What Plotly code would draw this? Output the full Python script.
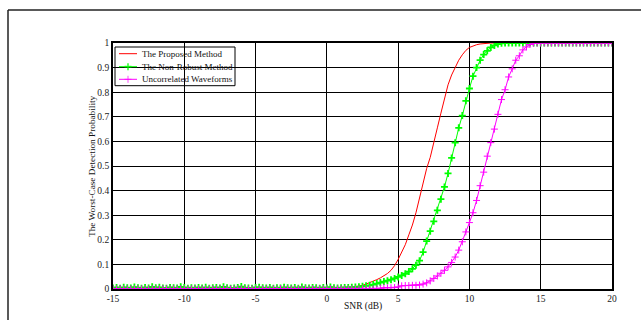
import plotly.graph_objects as go

# ---------------- data ----------------
snr = [
    -15, -14.75, -14.5, -14.25, -14, -13.75, -13.5, -13.25, -13, -12.75,
    -12.5, -12.25, -12, -11.75, -11.5, -11.25, -11, -10.75, -10.5, -10.25,
    -10, -9.75, -9.5, -9.25, -9, -8.75, -8.5, -8.25, -8, -7.75,
    -7.5, -7.25, -7, -6.75, -6.5, -6.25, -6, -5.75, -5.5, -5.25,
    -5, -4.75, -4.5, -4.25, -4, -3.75, -3.5, -3.25, -3, -2.75,
    -2.5, -2.25, -2, -1.75, -1.5, -1.25, -1, -0.75, -0.5, -0.25,
    0, 0.25, 0.5, 0.75, 1, 1.25, 1.5, 1.75, 2, 2.25,
    2.5, 2.75, 3, 3.25, 3.5, 3.75, 4, 4.25, 4.5, 4.75,
    5, 5.25, 5.5, 5.75, 6, 6.25, 6.5, 6.75, 7, 7.25,
    7.5, 7.75, 8, 8.25, 8.5, 8.75, 9, 9.25, 9.5, 9.75,
    10, 10.25, 10.5, 10.75, 11, 11.25, 11.5, 11.75, 12, 12.25,
    12.5, 12.75, 13, 13.25, 13.5, 13.75, 14, 14.25, 14.5, 14.75,
    15, 15.25, 15.5, 15.75, 16, 16.25, 16.5, 16.75, 17, 17.25,
    17.5, 17.75, 18, 18.25, 18.5, 18.75, 19, 19.25, 19.5, 19.75,
    20,
]

proposed = [
    0, 0, 0, 0, 0, 0, 0, 0, 0, 0,
    0, 0, 0, 0, 0, 0, 0, 0, 0, 0,
    0, 0, 0, 0, 0, 0, 0, 0, 0, 0,
    0, 0, 0, 0, 0, 0, 0, 0, 0, 0,
    0, 0, 0, 0, 0, 0, 0, 0, 0, 0,
    0, 0, 0, 0, 0, 0, 0, 0, 0, 0,
    0, 0, 0, 0.001, 0.002, 0.003, 0.004, 0.006, 0.008, 0.011,
    0.015, 0.02, 0.025, 0.031, 0.038, 0.045, 0.053, 0.063, 0.076, 0.095,
    0.12, 0.15, 0.18, 0.22, 0.26, 0.31, 0.37, 0.43, 0.49, 0.535,
    0.59, 0.655, 0.715, 0.775, 0.83, 0.87, 0.9, 0.93, 0.952, 0.97,
    0.982, 0.989, 0.993, 0.996, 0.998, 0.999, 1, 1, 1, 1,
    1, 1, 1, 1, 1, 1, 1, 1, 1, 1,
    1, 1, 1, 1, 1, 1, 1, 1, 1, 1,
    1, 1, 1, 1, 1, 1, 1, 1, 1, 1,
    1,
]

non_robust = [
    0.004, 0.006, 0.003, 0.007, 0.005, 0.004, 0.008, 0.005, 0.003, 0.006,
    0.004, 0.009, 0.005, 0.007, 0.004, 0.003, 0.006, 0.005, 0.004, 0.009,
    0.006, 0.003, 0.005, 0.004, 0.006, 0.004, 0.007, 0.003, 0.005, 0.006,
    0.004, 0.009, 0.005, 0.003, 0.004, 0.006, 0.01, 0.005, 0.004, 0.003,
    0.006, 0.007, 0.005, 0.004, 0.006, 0.003, 0.005, 0.004, 0.007, 0.005,
    0.004, 0.006, 0.003, 0.008, 0.005, 0.004, 0.006, 0.005, 0.003, 0.006,
    0.004, 0.008, 0.005, 0.004, 0.005, 0.006, 0.006, 0.007, 0.008, 0.009,
    0.011, 0.013, 0.015, 0.018, 0.022, 0.026, 0.03, 0.034, 0.038, 0.043,
    0.049, 0.055, 0.062, 0.071, 0.082, 0.097, 0.115, 0.15, 0.195, 0.235,
    0.275, 0.32, 0.365, 0.415, 0.47, 0.533, 0.595, 0.655, 0.705, 0.765,
    0.815, 0.865, 0.9, 0.93, 0.953, 0.968, 0.982, 0.99, 0.996, 0.999,
    1, 1, 1, 1, 1, 1, 1, 1, 1, 1,
    1, 1, 1, 1, 1, 1, 1, 1, 1, 1,
    1, 1, 1, 1, 1, 1, 1, 1, 1, 1,
    1,
]

uncorrelated = [
    0, 0, 0.001, 0, 0, 0, 0, 0.001, 0, 0,
    0, 0, 0, 0, 0.001, 0, 0, 0, 0, 0,
    0, 0, 0, 0.001, 0, 0, 0, 0, 0, 0,
    0, 0, 0, 0, 0, 0.001, 0, 0, 0, 0,
    0, 0, 0, 0, 0, 0, 0, 0.001, 0, 0,
    0, 0, 0, 0, 0, 0, 0, 0, 0, 0,
    0, 0, 0, 0, 0, 0, 0, 0, 0, 0,
    0, 0, 0, 0, 0, 0.003, 0.005, 0.005, 0.005, 0.006,
    0.008, 0.013, 0.014, 0.014, 0.015, 0.015, 0.016, 0.02, 0.025, 0.033,
    0.043, 0.053, 0.064, 0.076, 0.09, 0.108, 0.13, 0.158, 0.192, 0.232,
    0.27, 0.31, 0.36, 0.42, 0.475, 0.54, 0.595, 0.65, 0.71, 0.77,
    0.81, 0.862, 0.895, 0.93, 0.948, 0.972, 0.984, 0.994, 0.999, 1,
    1, 1, 1, 1, 1, 1, 1, 1, 1, 1,
    1, 1, 1, 1, 1, 1, 1, 1, 1, 1,
    1,
]

series_names = ["The Proposed Method", "The Non-Robust Method", "Uncorrelated Waveforms"]
x_ticks = [-15, -10, -5, 0, 5, 10, 15, 20]
y_ticks = [0, 0.1, 0.2, 0.3, 0.4, 0.5, 0.6, 0.7, 0.8, 0.9, 1]
x_title = "SNR (dB)"
y_title = "The Worst-Case Detection Probability"

# ---------------- layout geometry ----------------
W, H = 641, 320
L, R, T, B = 113, 29, 43, 31
PW, PH = W - L - R, H - T - B
FONT = "Liberation Serif, Times New Roman, serif"
FS = 9.5
RED, GREEN, MAGENTA = "#ff0000", "#00ff00", "#ff00ff"


def px(xp):
    return (xp - L) / PW


def py(yp):
    return (H - B - yp) / PH


fig = go.Figure()

fig.add_trace(go.Scatter(x=snr, y=proposed, mode="lines", name=series_names[0],
                         line=dict(color=RED, width=1), showlegend=False))
fig.add_trace(go.Scatter(x=snr, y=non_robust, mode="lines+markers", name=series_names[1],
                         line=dict(color=GREEN, width=1),
                         marker=dict(symbol="cross-thin-open", size=5,
                                     line=dict(color=GREEN, width=1.8)),
                         showlegend=False))
fig.add_trace(go.Scatter(x=snr, y=uncorrelated, mode="lines+markers", name=series_names[2],
                         line=dict(color=MAGENTA, width=1),
                         marker=dict(symbol="cross-thin-open", size=5,
                                     line=dict(color=MAGENTA, width=1)),
                         showlegend=False))

# ---------- manual legend (MATLAB style) ----------
rows = [53.7, 66.7, 79.3]
colors = [RED, GREEN, MAGENTA]
symbols = [None, "cross-thin-open", "cross-thin-open"]
mwidth = [1, 1.8, 1]
lx0, lx1, lxm = px(119), px(137), px(128)
for i in range(3):
    yr = py(rows[i])
    if symbols[i] is None:
        fig.add_trace(go.Scatter(x=[lx0, lx1], y=[yr, yr], mode="lines",
                                 line=dict(color=colors[i], width=1),
                                 xaxis="x2", yaxis="y2", showlegend=False,
                                 hoverinfo="skip"))
    else:
        fig.add_trace(go.Scatter(x=[lx0, lxm, lx1], y=[yr, yr, yr], mode="lines+markers",
                                 line=dict(color=colors[i], width=1),
                                 marker=dict(symbol=symbols[i], size=[0, 5, 0],
                                             line=dict(color=colors[i], width=mwidth[i])),
                                 xaxis="x2", yaxis="y2", showlegend=False,
                                 hoverinfo="skip"))

shapes = [
    # legend box
    dict(type="rect", xref="paper", yref="paper", x0=px(115), x1=px(235),
         y0=py(85.7), y1=py(47), line=dict(color="black", width=1),
         fillcolor="white", layer="between"),
    # outer figure frame (top and left edges)
    dict(type="line", xref="paper", yref="paper", x0=px(8), x1=px(645),
         y0=py(10), y1=py(10), line=dict(color="#222", width=1.5)),
    dict(type="line", xref="paper", yref="paper", x0=px(8), x1=px(8),
         y0=py(10), y1=py(330), line=dict(color="#222", width=1.5)),
]

annotations = []
for i in range(3):
    annotations.append(dict(x=px(140), y=py(rows[i]), xref="paper", yref="paper",
                            text=series_names[i], showarrow=False, xanchor="left",
                            yanchor="middle", font=dict(family=FONT, size=9, color="#111")))
annotations.append(dict(x=0.5, y=py(306), xref="paper", yref="paper", text=x_title,
                        showarrow=False, xanchor="center", yanchor="middle",
                        font=dict(family=FONT, size=FS, color="#111")))
annotations.append(dict(x=px(92), y=0.5, xref="paper", yref="paper", text=y_title,
                        showarrow=False, textangle=-90, xanchor="center", yanchor="middle",
                        font=dict(family=FONT, size=9.25, color="#111")))

axis_common = dict(showgrid=True, gridcolor="black", gridwidth=1.4, showline=True,
                   linecolor="black", linewidth=1.8, mirror=True, ticks="",
                   zeroline=False, tickfont=dict(family=FONT, size=FS, color="#222"))

fig.update_layout(
    width=W, height=H,
    margin=dict(l=L, r=R, t=T, b=B, pad=0),
    paper_bgcolor="white", plot_bgcolor="white",
    showlegend=False,
    xaxis=dict(range=[-15, 20], tickvals=x_ticks, ticktext=[str(v) for v in x_ticks],
               **axis_common),
    yaxis=dict(range=[0, 1], tickvals=y_ticks, ticktext=[("%g" % v) for v in y_ticks],
               **axis_common),
    xaxis2=dict(range=[0, 1], overlaying="x", visible=False),
    yaxis2=dict(range=[0, 1], overlaying="y", visible=False),
    shapes=shapes,
    annotations=annotations,
)

fig.write_html("out.html",
               config={"displayModeBar": False},
               post_script="document.body.style.margin='0';document.body.style.overflow='hidden';")
